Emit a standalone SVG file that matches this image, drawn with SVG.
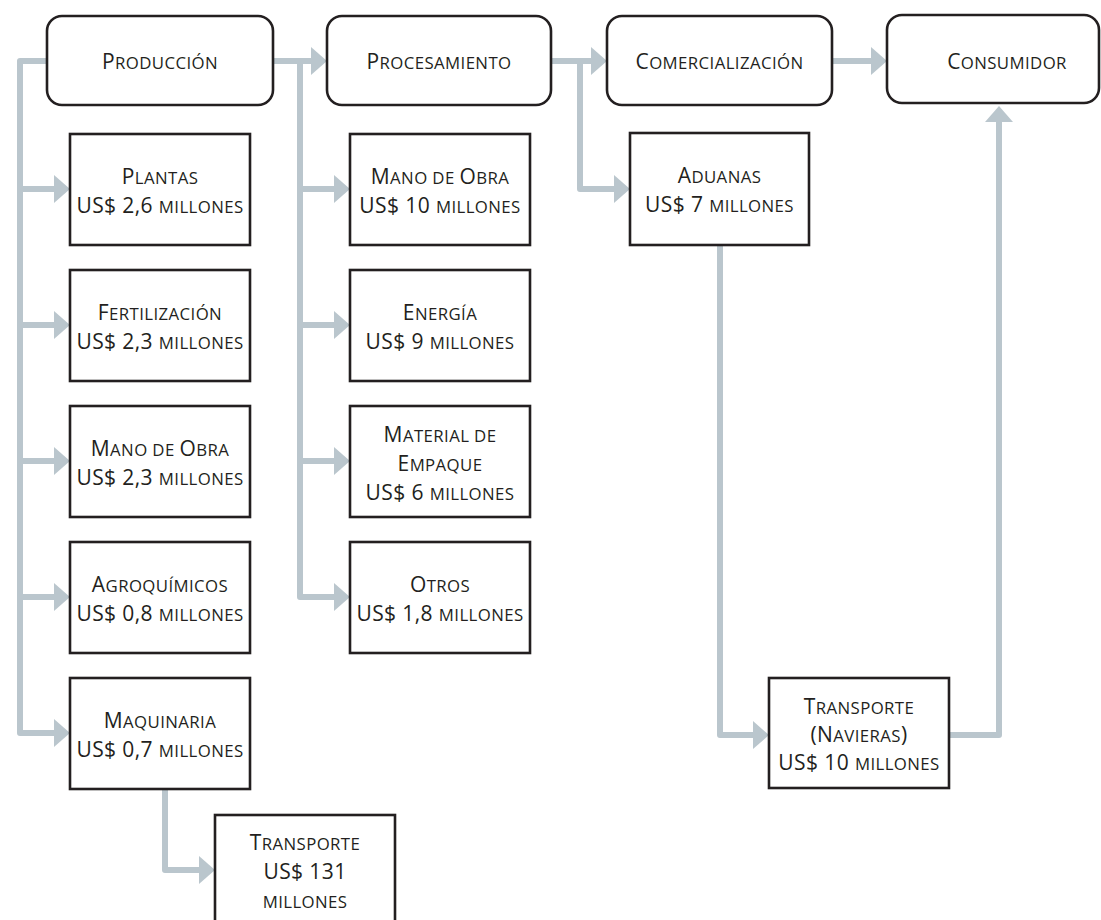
<svg xmlns="http://www.w3.org/2000/svg" width="1101" height="920" viewBox="0 0 1101 920">
<defs>
<style>
.bx{fill:#fff;stroke:#231f20;stroke-width:2.6}
.t{font-family:"Open Sans","Noto Sans","Liberation Sans",sans-serif;font-size:21px;letter-spacing:0.4px;fill:#231f20;text-anchor:middle}
.s{font-size:16.8px}
.c{fill:none;stroke:#bac6cd;stroke-width:6;stroke-linejoin:round}
</style>
<marker id="ah" markerUnits="userSpaceOnUse" markerWidth="18" markerHeight="30" refX="0" refY="14" orient="auto" viewBox="0 0 18 28">
<path d="M0,0 L16,14 L0,28 Z" fill="#bac6cd"/>
</marker>
</defs>
<rect width="1101" height="920" fill="#fff"/>
<g id="connectors">
<path class="c" d="M47,61 H20 V733 H54" marker-end="url(#ah)"/>
<path class="c" d="M20,189 H54" marker-end="url(#ah)"/>
<path class="c" d="M20,325 H54" marker-end="url(#ah)"/>
<path class="c" d="M20,461 H54" marker-end="url(#ah)"/>
<path class="c" d="M20,597 H54" marker-end="url(#ah)"/>
<path class="c" d="M273,61 H311" marker-end="url(#ah)"/>
<path class="c" d="M300,61 V597 H334" marker-end="url(#ah)"/>
<path class="c" d="M300,189 H334" marker-end="url(#ah)"/>
<path class="c" d="M300,325 H334" marker-end="url(#ah)"/>
<path class="c" d="M300,461 H334" marker-end="url(#ah)"/>
<path class="c" d="M551,61 H591" marker-end="url(#ah)"/>
<path class="c" d="M580,61 V189 H614" marker-end="url(#ah)"/>
<path class="c" d="M832,61 H871" marker-end="url(#ah)"/>
<path class="c" d="M720,245 V735 H753" marker-end="url(#ah)"/>
<path class="c" d="M949,735 H999 V122" marker-end="url(#ah)"/>
<path class="c" d="M165,789 V870 H199" marker-end="url(#ah)"/>
</g>
<g id="produccion"><rect class="bx" x="47" y="16" width="226" height="89" rx="15"/><text class="t" x="160" y="69">P<tspan class="s">RODUCCIÓN</tspan></text></g>
<g id="procesamiento"><rect class="bx" x="327" y="16" width="224" height="89" rx="15"/><text class="t" x="439" y="69">P<tspan class="s">ROCESAMIENTO</tspan></text></g>
<g id="comercializacion"><rect class="bx" x="607" y="16" width="225" height="89" rx="15"/><text class="t" x="719.5" y="69">C<tspan class="s">OMERCIALIZACIÓN</tspan></text></g>
<g id="consumidor"><rect class="bx" x="887" y="15" width="212" height="88" rx="15"/><text class="t" x="1007" y="69">C<tspan class="s">ONSUMIDOR</tspan></text></g>

<g id="plantas"><rect class="bx" x="70" y="134" width="180" height="111"/><text class="t" x="160" y="184">P<tspan class="s">LANTAS</tspan></text><text class="t" x="160" y="213">US$ 2,6 <tspan class="s">MILLONES</tspan></text></g>
<g id="fertilizacion"><rect class="bx" x="70" y="270" width="180" height="111"/><text class="t" x="160" y="320">F<tspan class="s">ERTILIZACIÓN</tspan></text><text class="t" x="160" y="349">US$ 2,3 <tspan class="s">MILLONES</tspan></text></g>
<g id="manoobra1"><rect class="bx" x="70" y="406" width="180" height="111"/><text class="t" x="160" y="456">M<tspan class="s">ANO DE </tspan>O<tspan class="s">BRA</tspan></text><text class="t" x="160" y="485">US$ 2,3 <tspan class="s">MILLONES</tspan></text></g>
<g id="agroquimicos"><rect class="bx" x="70" y="542" width="180" height="111"/><text class="t" x="160" y="592">A<tspan class="s">GROQUÍMICOS</tspan></text><text class="t" x="160" y="621">US$ 0,8 <tspan class="s">MILLONES</tspan></text></g>
<g id="maquinaria"><rect class="bx" x="70" y="678" width="180" height="111"/><text class="t" x="160" y="728">M<tspan class="s">AQUINARIA</tspan></text><text class="t" x="160" y="757">US$ 0,7 <tspan class="s">MILLONES</tspan></text></g>
<g id="transporte1"><rect class="bx" x="215" y="815" width="180" height="112"/><text class="t" x="305" y="850">T<tspan class="s">RANSPORTE</tspan></text><text class="t" x="305" y="879">US$ 131</text><text class="t" x="305" y="908"><tspan class="s">MILLONES</tspan></text></g>

<g id="manoobra2"><rect class="bx" x="350" y="134" width="180" height="111"/><text class="t" x="440" y="184">M<tspan class="s">ANO DE </tspan>O<tspan class="s">BRA</tspan></text><text class="t" x="440" y="213">US$ 10 <tspan class="s">MILLONES</tspan></text></g>
<g id="energia"><rect class="bx" x="350" y="270" width="180" height="111"/><text class="t" x="440" y="320">E<tspan class="s">NERGÍA</tspan></text><text class="t" x="440" y="349">US$ 9 <tspan class="s">MILLONES</tspan></text></g>
<g id="material"><rect class="bx" x="350" y="406" width="180" height="111"/><text class="t" x="440" y="442">M<tspan class="s">ATERIAL DE</tspan></text><text class="t" x="440" y="471">E<tspan class="s">MPAQUE</tspan></text><text class="t" x="440" y="500">US$ 6 <tspan class="s">MILLONES</tspan></text></g>
<g id="otros"><rect class="bx" x="350" y="542" width="180" height="111"/><text class="t" x="440" y="592">O<tspan class="s">TROS</tspan></text><text class="t" x="440" y="621">US$ 1,8 <tspan class="s">MILLONES</tspan></text></g>

<g id="aduanas"><rect class="bx" x="630" y="133" width="179" height="112"/><text class="t" x="719.5" y="183">A<tspan class="s">DUANAS</tspan></text><text class="t" x="719.5" y="212">US$ 7 <tspan class="s">MILLONES</tspan></text></g>
<g id="navieras"><rect class="bx" x="769" y="678" width="180" height="110"/><text class="t" x="859" y="714">T<tspan class="s">RANSPORTE</tspan></text><text class="t" x="859" y="742">(N<tspan class="s">AVIERAS</tspan>)</text><text class="t" x="859" y="770">US$ 10 <tspan class="s">MILLONES</tspan></text></g>
</svg>
